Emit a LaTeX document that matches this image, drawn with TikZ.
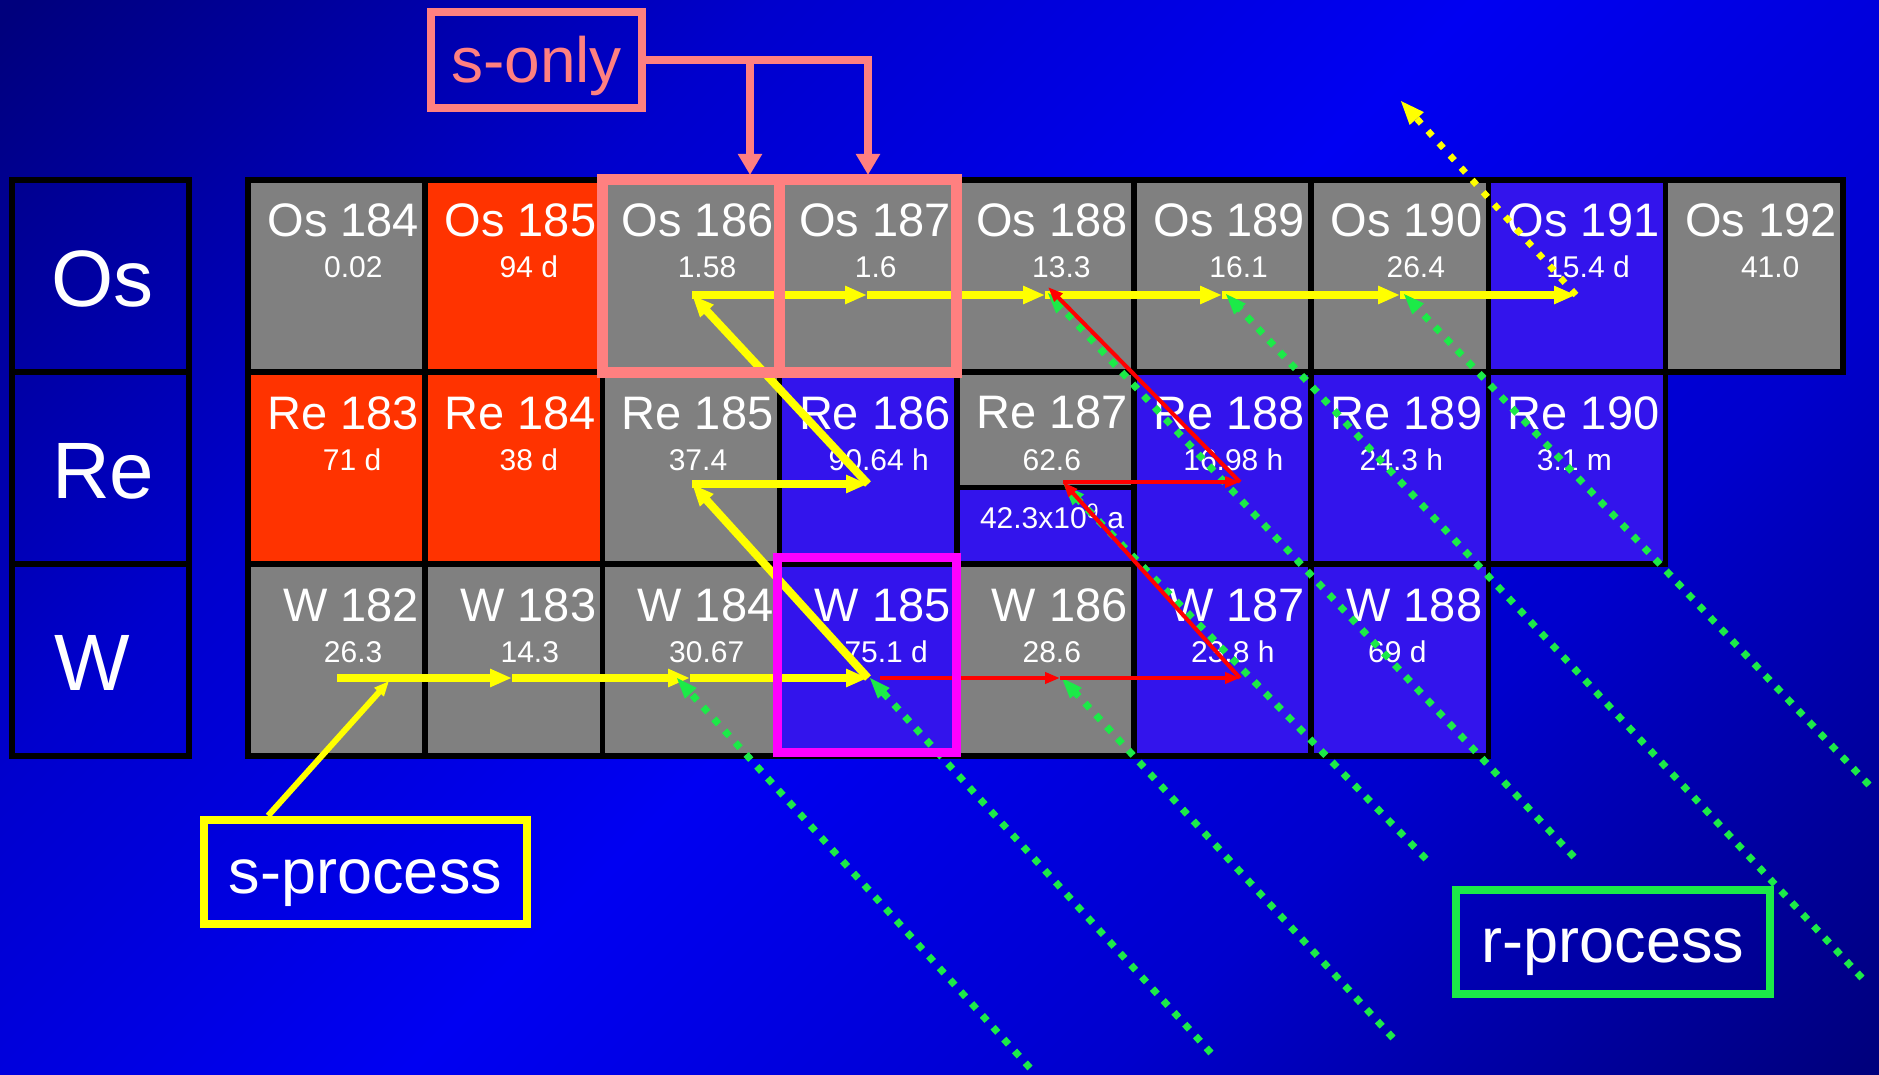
\documentclass[tikz,border=0pt]{standalone}
\usepackage{fontspec}
\setmainfont{Liberation Sans}
\usetikzlibrary{arrows.meta,calc}
\definecolor{bgdark}{RGB}{0,0,125}
\definecolor{bgmid}{RGB}{0,0,205}
\definecolor{bgbright}{RGB}{0,0,242}
\definecolor{cellgray}{RGB}{128,128,128}
\definecolor{cellred}{RGB}{255,51,0}
\definecolor{cellblue}{RGB}{51,20,236}
\definecolor{salmon}{RGB}{255,128,128}
\definecolor{hlmag}{RGB}{255,0,255}
\definecolor{rgreen}{RGB}{28,234,72}
\definecolor{syel}{RGB}{255,255,0}
\definecolor{rred}{RGB}{255,0,0}
\pgfdeclareverticalshading{bgshade}{100bp}{color(0bp)=(bgdark); color(15bp)=(bgdark); color(33bp)=(bgmid); color(50bp)=(bgbright); color(67bp)=(bgmid); color(85bp)=(bgdark); color(100bp)=(bgdark)}

% #1 id, #2 column, #3 row, #4 fill, #5 isotope, #6 value, #7 value offset
\newcommand\nuc[7]{%
  \node[cell, fill=#4] (#1) at ({248+177.2*#2+88.6},{180+192*#3+96}) {};
  \node[nname, anchor=base east] (#1n) at ({248+177.2*(#2+1)-6},{180+192*#3+57}) {#5};
  \node[nval, anchor=base] (#1v) at ({248+177.2*#2+88.6+#7},{180+192*#3+98}) {#6};
}

\begin{document}
\begin{tikzpicture}[x=1pt,y=-1pt,
  cell/.style={draw=black, line width=5.5pt, minimum width=177.2pt, minimum height=192pt, inner sep=0pt, outer sep=0pt},
  lblbox/.style={draw=black, line width=5.5pt, minimum width=177pt, minimum height=192pt, inner sep=0pt, outer sep=0pt},
  lbltxt/.style={text=white, inner sep=0pt, font=\fontsize{80pt}{84pt}\selectfont},
  nname/.style={text=white, inner sep=0pt, font=\fontsize{47pt}{50pt}\selectfont},
  nval/.style={text=white, inner sep=0pt, font=\fontsize{30pt}{32pt}\selectfont},
  yl/.style={draw=syel, line width=8pt, -{Triangle[length=22pt,width=17pt]}},
  ylthin/.style={draw=syel, line width=6pt, -{Triangle[length=15pt,width=12pt]}},
  yldot/.style={draw=syel, line width=6.5pt, dash pattern=on 6.5pt off 10pt, -{Triangle[length=25pt,width=17pt]}},
  gr/.style={draw=rgreen, line width=7pt, dash pattern=on 7pt off 9pt, -{Triangle[length=22pt,width=14pt]}},
  rd/.style={draw=rred, line width=4pt, -{Triangle[length=15pt,width=11pt]}},
  hl/.style={line width=11pt, minimum width=177.2pt, minimum height=192pt, inner sep=0pt},
  sline/.style={draw=salmon, line width=7.5pt, -{Triangle[length=21pt,width=23pt]}},
  capbox/.style={line width=8pt, inner sep=0pt, text depth=14pt}
]
\useasboundingbox (0,0) rectangle (1879,1075);
\shade[shading=bgshade, shading angle=45] (0,0) rectangle (1879,1075);

% element label boxes
\node[lblbox] (OsBox) at (100.3,276) {};
\node[lblbox] (ReBox) at (100.3,468) {};
\node[lblbox] (WBox) at (100.3,660) {};
\node[lbltxt, anchor=base west] (OsLab) at (51,307) {Os};
\node[lbltxt, anchor=base west] (ReLab) at (52,498) {Re};
\node[lbltxt, anchor=base west] (WLab) at (54,690) {W};

% Os row
\nuc{Os184}{0}{0}{cellgray}{Os 184}{0.02}{16.8}
\nuc{Os185}{1}{0}{cellred}{Os 185}{94 d}{15}
\nuc{Os186}{2}{0}{cellgray}{Os 186}{1.58}{16}
\nuc{Os187}{3}{0}{cellgray}{Os 187}{1.6}{7.5}
\nuc{Os188}{4}{0}{cellgray}{Os 188}{13.3}{16}
\nuc{Os189}{5}{0}{cellgray}{Os 189}{16.1}{16}
\nuc{Os190}{6}{0}{cellgray}{Os 190}{26.4}{16}
\nuc{Os191}{7}{0}{cellblue}{Os 191}{15.4 d}{11}
\nuc{Os192}{8}{0}{cellgray}{Os 192}{41.0}{16}
% Re row
\nuc{Re183}{0}{1}{cellred}{Re 183}{71 d}{15.5}
\nuc{Re184}{1}{1}{cellred}{Re 184}{38 d}{15}
\nuc{Re185}{2}{1}{cellgray}{Re 185}{37.4}{7}
\nuc{Re186}{3}{1}{cellblue}{Re 186}{90.64 h}{10.5}
\node[cell, fill=cellblue] (Re187) at (1045.4,468) {};
\fill[cellgray] (956.8,372) rectangle (1134,487.5);
\draw[line width=5.5pt] (956.8,487.5) -- (1134,487.5);
\draw[line width=5.5pt] (Re187.north west) rectangle (Re187.south east);
\node[nname, anchor=base east] (Re187n) at (1128,428) {Re 187};
\node[nval, anchor=base] (Re187v) at (1051.8,470) {62.6};
\node[nval, anchor=base] (Re187w) at (1052,528) {42.3x10\textsuperscript{9} a};
\nuc{Re188}{5}{1}{cellblue}{Re 188}{16.98 h}{10.8}
\nuc{Re189}{6}{1}{cellblue}{Re 189}{24.3 h}{1.6}
\nuc{Re190}{7}{1}{cellblue}{Re 190}{3.1 m}{-2.6}
% W row
\nuc{W182}{0}{2}{cellgray}{W 182}{26.3}{16.5}
\nuc{W183}{1}{2}{cellgray}{W 183}{14.3}{16}
\nuc{W184}{2}{2}{cellgray}{W 184}{30.67}{15.7}
\nuc{W185}{3}{2}{cellblue}{W 185}{75.1 d}{18}
\nuc{W186}{4}{2}{cellgray}{W 186}{28.6}{6.4}
\nuc{W187}{5}{2}{cellblue}{W 187}{23.8 h}{10.2}
\nuc{W188}{6}{2}{cellblue}{W 188}{69 d}{-2.5}

% path points
\coordinate (yOs186) at (692,295);
\coordinate (yOs187) at (867,295);
\coordinate (yOs188) at (1045,295);
\coordinate (yOs189) at (1222,295);
\coordinate (yOs190) at (1400,295);
\coordinate (yOs191) at (1576,295);
\coordinate (yRe185) at (692,484);
\coordinate (yRe186) at (868,484);
\coordinate (yW182) at (337,678);
\coordinate (yW183) at (512,678);
\coordinate (yW184) at (690,678);
\coordinate (yW185) at (868,678);
\coordinate (yOut) at (1400,100);
\coordinate (spTip) at (389,681);
\coordinate (rW185) at (880,678);
\coordinate (rW186) at (1060,678);
\coordinate (rW187) at (1240,678);
\coordinate (rRe187) at (1063,482);
\coordinate (rRe188) at (1240,482);
\coordinate (rOs188) at (1048,287);
\coordinate (g1t) at (1030,1068); \coordinate (g1h) at (676,677);
\coordinate (g2t) at (1211,1053); \coordinate (g2h) at (869,677);
\coordinate (g3t) at (1393,1038); \coordinate (g3h) at (1061,677);
\coordinate (g4t) at (1426,859);  \coordinate (g4h) at (1063,484);
\coordinate (g5t) at (1574,857);  \coordinate (g5h) at (1047,292);
\coordinate (g6t) at (1862,978);  \coordinate (g6h) at (1225,293);
\coordinate (g7t) at (1869,785);  \coordinate (g7h) at (1403,293);

% r-process box
\node[capbox, draw=rgreen, line width=7.5pt, minimum width=314pt, minimum height=104pt, text=white, text height=54pt, font=\fontsize{63pt}{66pt}\selectfont] (rproc) at (1613,942) {r-process};

% s-process path (yellow)
\draw[yl] (yOs186) -- (yOs187);
\draw[yl] (yOs187) -- (yOs188);
\draw[yl] (yOs188) -- (yOs189);
\draw[yl] (yOs189) -- (yOs190);
\draw[yl] (yOs190) -- (yOs191);
\draw[yl] (yRe185) -- (yRe186);
\draw[yl] (yRe186) -- (yOs186);
\draw[yl] (yW182) -- (yW183);
\draw[yl] (yW183) -- (yW184);
\draw[yl] (yW184) -- (yW185);
\draw[yl] (yW185) -- (yRe185);
\draw[yldot] (yOs191) -- (yOut);

% r-process feeding (green)
\draw[gr] (g1t) -- (g1h);
\draw[gr] (g2t) -- (g2h);
\draw[gr] (g3t) -- (g3h);
\draw[gr] (g4t) -- (g4h);
\draw[gr] (g5t) -- (g5h);
\draw[gr] (g6t) -- (g6h);
\draw[gr] (g7t) -- (g7h);

% branch (red)
\draw[rd] (rW185) -- (rW186);
\draw[rd] (rW186) -- (rW187);
\draw[rd] (rW187) -- (rRe187);
\draw[rd] (rRe187) -- (rRe188);
\draw[rd] (rRe188) -- (rOs188);

% highlight boxes
\node[hl, draw=salmon] (hl186) at (Os186) {};
\node[hl, draw=salmon] (hl187) at (Os187) {};
\node[draw=hlmag, line width=9pt, minimum width=179pt, minimum height=195pt, inner sep=0pt] (hlW185) at (866.5,655) {};

% s-only label
\node[capbox, draw=salmon, minimum width=211pt, minimum height=96pt, text=salmon, text height=60pt, font=\fontsize{64pt}{67pt}\selectfont] (sonly) at (536.5,60) {s-only};
\coordinate (sj1) at (750,60);
\coordinate (sj2) at (868,60);
\coordinate (sTip186) at (750,175);
\coordinate (sTip187) at (868,175);
\draw[sline, line join=miter] (sonly.east) -- (sj2) -- (sTip187);
\draw[sline] (sj1) -- (sTip186);

% s-process label
\node[capbox, draw=syel, line width=8.5pt, minimum width=323pt, minimum height=104pt, text=white, text height=56pt, font=\fontsize{63pt}{66pt}\selectfont] (sproc) at (365.5,872) {s-process};
\draw[ylthin] (sproc.150.6) -- (spTip);
\end{tikzpicture}
\end{document}
